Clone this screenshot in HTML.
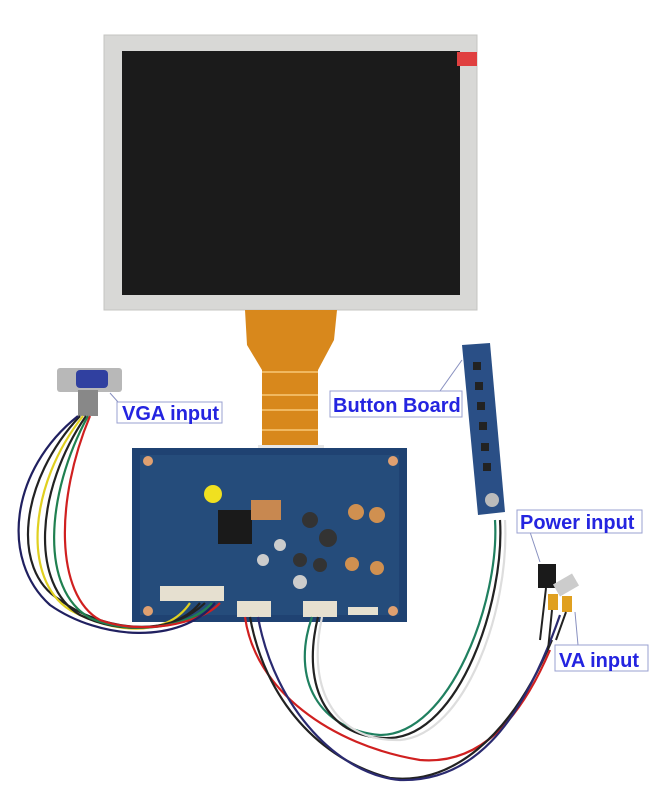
<!DOCTYPE html>
<html><head><style>
body{margin:0;background:#fff;}
svg{display:block}
.l{font-family:"Liberation Sans",sans-serif;font-weight:bold;font-size:20px;fill:#2424e0}
</style></head><body>
<svg width="657" height="800" viewBox="0 0 657 800">
<rect width="657" height="800" fill="#fff"/>
<rect x="104" y="35" width="373" height="275" fill="#d8d8d6" stroke="#c4c4c2"/>
<rect x="122" y="51" width="338" height="244" fill="#1b1b1b"/>
<rect x="457" y="52" width="20" height="14" fill="#e04040"/>
<path d="M245 310 L337 310 L334 340 L318 370 L318 452 L262 452 L262 370 L247 345 Z" fill="#d8881c"/>
<path d="M262 372 H318 M262 395 H318 M262 410 H318 M262 430 H318" stroke="#f0b860" stroke-width="2"/>
<rect x="258" y="445" width="66" height="10" fill="#e8e8e8"/>
<rect x="132" y="448" width="275" height="174" fill="#1f4272"/>
<rect x="140" y="455" width="259" height="160" fill="#2a5482" opacity=".6"/>
<rect x="218" y="510" width="34" height="34" fill="#1a1a1a"/>
<circle cx="213" cy="494" r="9" fill="#f0e020"/>
<rect x="251" y="500" width="30" height="20" fill="#c88850"/>
<g fill="#333"><circle cx="310" cy="520" r="8"/><circle cx="328" cy="538" r="9"/><circle cx="300" cy="560" r="7"/><circle cx="320" cy="565" r="7"/><circle cx="280" cy="545" r="6" fill="#ccc"/><circle cx="300" cy="582" r="7" fill="#ccc"/><circle cx="263" cy="560" r="6" fill="#ccc"/></g>
<g fill="#d09050"><circle cx="356" cy="512" r="8"/><circle cx="377" cy="515" r="8"/><circle cx="352" cy="564" r="7"/><circle cx="377" cy="568" r="7"/></g>
<g fill="#e6e0d0"><rect x="160" y="586" width="64" height="15"/><rect x="237" y="601" width="34" height="16"/><rect x="303" y="601" width="34" height="16"/><rect x="348" y="607" width="30" height="8"/></g>
<g fill="#e0a070"><circle cx="148" cy="461" r="5"/><circle cx="393" cy="461" r="5"/><circle cx="148" cy="611" r="5"/><circle cx="393" cy="611" r="5"/></g>
<rect x="57" y="368" width="65" height="24" rx="3" fill="#b8b8b8"/>
<rect x="76" y="370" width="32" height="18" rx="4" fill="#3040a0"/>
<rect x="78" y="390" width="20" height="26" fill="#888"/>
<g fill="none" stroke-width="2.2">
<path d="M80 416 C20 480 10 570 60 600 C100 630 170 640 200 603" stroke="#222"/>
<path d="M83 416 C28 485 22 580 70 610 C110 632 165 640 190 603" stroke="#e0d020"/>
<path d="M86 416 C35 490 30 585 80 615 C120 635 175 632 205 603" stroke="#222"/>
<path d="M88 416 C45 495 40 590 90 618 C130 636 190 628 212 603" stroke="#208050"/>
<path d="M90 416 C55 500 55 595 100 620 C140 635 200 625 220 603" stroke="#d02020"/>
<path d="M78 416 C10 470 0 560 50 605 C100 640 180 645 215 603" stroke="#202060"/>
</g>
<g fill="none" stroke-width="2.2">
<path d="M245 617 C255 690 330 745 420 760 C480 765 520 720 550 650" stroke="#d02020"/>
<path d="M250 617 C265 700 320 760 390 778 C450 785 510 740 552 640" stroke="#222"/>
<path d="M258 617 C275 710 340 775 400 780 C470 782 520 730 560 615" stroke="#2a2a70"/>
<path d="M312 617 C290 680 320 730 380 735 C450 735 500 600 495 520" stroke="#208060"/>
<path d="M318 617 C300 690 330 740 390 738 C460 735 505 600 500 520" stroke="#222"/>
<path d="M322 617 C305 695 340 742 400 740 C465 735 510 610 505 520" stroke="#ddd"/>
</g>
<path d="M462 345 L490 343 L505 512 L478 515 Z" fill="#2a4f86"/>
<g fill="#222"><rect x="473" y="362" width="8" height="8"/><rect x="475" y="382" width="8" height="8"/><rect x="477" y="402" width="8" height="8"/><rect x="479" y="422" width="8" height="8"/><rect x="481" y="443" width="8" height="8"/><rect x="483" y="463" width="8" height="8"/></g>
<circle cx="492" cy="500" r="7" fill="#bbb"/>
<rect x="538" y="564" width="18" height="24" fill="#1a1a1a"/>
<rect x="555" y="578" width="22" height="14" fill="#ccc" transform="rotate(-30 566 585)"/>
<rect x="548" y="594" width="10" height="16" fill="#e0a020"/>
<rect x="562" y="596" width="10" height="16" fill="#e0a020"/>
<path d="M546 588 L540 640 M552 610 L548 650 M566 612 L556 640" stroke="#222" stroke-width="2" fill="none"/>
<g stroke="#8890c0" stroke-width="1" fill="none">
<path d="M110 393 L118 402"/><path d="M440 391 L462 360"/><path d="M530 532 L540 562"/><path d="M575 612 L578 645"/>
</g>
<rect x="117" y="402" width="105" height="21" fill="#fff" stroke="#9aa0d0"/>
<text class="l" x="122" y="420">VGA input</text>
<rect x="330" y="391" width="132" height="26" fill="#fff" stroke="#9aa0d0"/>
<text class="l" x="333" y="412">Button Board</text>
<rect x="517" y="510" width="125" height="23" fill="#fff" stroke="#9aa0d0"/>
<text class="l" x="520" y="529">Power input</text>
<rect x="555" y="645" width="93" height="26" fill="#fff" stroke="#9aa0d0"/>
<text class="l" x="559" y="667">VA input</text>
</svg>
</body></html>
